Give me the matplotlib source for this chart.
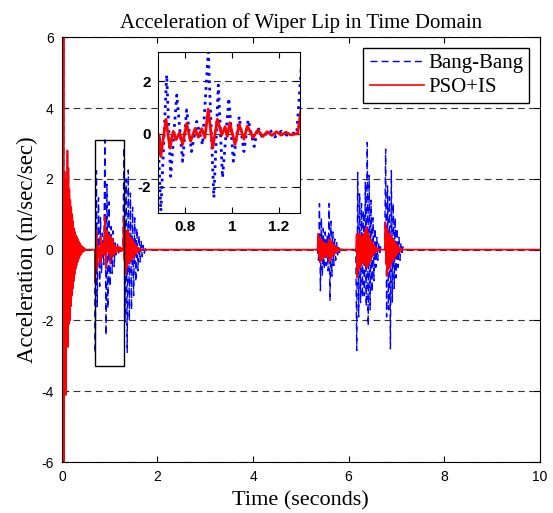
import numpy as np
import matplotlib.pyplot as plt
from matplotlib.patches import Rectangle

plt.rcParams['axes.unicode_minus'] = False

# start-up transient (same for both controllers), one value every 0.01 s
start_t0, start_dt = 0.025, 0.01
start_vals = [0, 6.6, -6.6, 2.2, -3.2, 2.0, -4.1, 1.5, -2.6, 2.8, -2.75, 2.3, -2.1, 1.7,
              -2.0, 1.4, -1.6, 1.2, -1.3, 1.0, -1.1, 0.8, -0.9, 0.6, -0.7, 0.5, -0.55,
              0.4, -0.45, 0.35, -0.35, 0.3, -0.28, 0.22, -0.22, 0.18, -0.16, 0.13,
              -0.12, 0.1, -0.08, 0.07, -0.06, 0.05, -0.04, 0.03, 0]

# Bang-Bang: first wipe burst
bb1_t = [0.685, 0.697, 0.722, 0.739, 0.765, 0.79, 0.807, 0.828, 0.85, 0.875, 0.899,
         0.923, 0.942, 0.96, 0.987, 1.006, 1.031, 1.051, 1.069, 1.095, 1.11, 1.13,
         1.162, 1.183, 1.211, 1.233, 1.262, 1.275]
bb1_v = [0, -2.93, 2.23, -1.61, 1.47, -1.04, 0.91, -0.67, 0.47, -0.42, 3.1,
         -2.42, 1.85, -1.66, 1.35, -1.04, 0.65, -0.67, 0.53, -0.48, 0.25, -0.15,
         0.15, -0.12, 0.10, -0.05, 0.03, 0]
# Bang-Bang: other bursts (start time, spacing, values)
bb_bursts = [
    (1.276, 0.0225, [0, 2.89, -2.05, 2.0, -2.9, 2.25, -2.0, 1.6, -1.7, 1.2, -1.3, 0.9,
                     -0.9, 0.6, -0.6, 0.4, -0.35, 0.25, -0.2, 0.12, -0.1, 0.05, 0]),
    (5.35, 0.02, [0, -0.3, 1.3, -1.16, 0.9, -0.75, 0.6, -0.55, 0.5, -0.45, 0.4, -0.6,
                  1.3, -1.45, 0.8, -0.75, 0.5, -0.45, 0.3, -0.3, 0.2, -0.15, 0.1,
                  -0.08, 0.05, 0]),
    (6.15, 0.02, [0, -2.85, 2.18, -1.9, 1.6, -1.5, 1.3, -1.35, 1.1, -1.3, 1.9, -1.6,
                  3.03, -2.15, 2.1, -1.7, 1.4, -1.2, 0.9, -0.88, 0.6, -0.5, 0.35,
                  -0.3, 0.2, -0.15, 0.08, 0]),
    (6.755, 0.02, [0, 2.84, -1.9, 1.8, -1.7, 1.5, -2.8, 2.23, -1.5, 1.3, -1.1, 0.9,
                   -0.8, 0.6, -0.5, 0.35, -0.3, 0.2, -0.15, 0.08, 0]),
]

# PSO+IS: first wipe burst
ps1_t = [0.685, 0.691, 0.697, 0.719, 0.736, 0.75, 0.762, 0.777, 0.79, 0.807, 0.824,
         0.843, 0.857, 0.871, 0.885, 0.899, 0.918, 0.938, 0.957, 0.971, 0.98, 0.991,
         1.013, 1.031, 1.051, 1.066, 1.09, 1.11, 1.132, 1.15, 1.17, 1.19, 1.21,
         1.23, 1.25, 1.275]
ps1_v = [0, -0.1, -0.86, 0.55, -0.54, 0.09, -0.22, 0.05, -0.4, 0.39, -0.28,
         0.2, -0.13, 0.2, -0.15, 0.93, -0.54, 0.55, -0.04, 0.27, -0.1, 0.42,
         -0.4, 0.36, -0.2, 0.3, -0.15, 0.14, -0.1, 0.08, -0.06, 0.08, -0.05,
         0.06, -0.04, 0]
ps_bursts = [
    (1.28, 0.014, [0, 0.9, -0.3, 0.6, -0.68, 0.5, -0.5, 0.55, -0.4, 0.45, -0.35, 0.35,
                   -0.3, 0.3, -0.25, 0.25, -0.2, 0.18, -0.15, 0.12, -0.1, 0.08, -0.06,
                   0.05, -0.04, 0.03, -0.02, 0]),
    (5.35, 0.014, [0, 0.45, -0.2, 0.35, -0.36, 0.3, -0.3, 0.25, -0.25, 0.2, -0.22, 0.18,
                   -0.2, 0.15, -0.15, 0.18, -0.2, 0.3, -0.35, 0.28, -0.25, 0.22, -0.2,
                   0.15, -0.15, 0.12, -0.1, 0.08, -0.07, 0.06, -0.05, 0.04, -0.03,
                   0.02, 0]),
    (6.155, 0.013, [0, 0.44, -0.78, 0.4, -0.6, 0.45, -0.5, 0.4, -0.45, 0.35, -0.4, 0.4,
                    -0.35, 0.45, -0.4, 0.55, -0.45, 0.63, -0.5, 0.5, -0.45, 0.4, -0.35,
                    0.3, -0.3, 0.25, -0.2, 0.18, -0.15, 0.12, -0.1, 0.08, -0.06, 0.05,
                    -0.04, 0.03, -0.02, 0.01, 0]),
    (6.758, 0.013, [0, 0.77, -0.4, 0.6, -0.73, 0.5, -0.55, 0.45, -0.5, 0.4, -0.4, 0.35,
                    -0.35, 0.3, -0.28, 0.25, -0.22, 0.2, -0.18, 0.15, -0.12, 0.1, -0.08,
                    0.06, -0.05, 0.04, -0.03, 0.02, 0]),
]
t_end = 10.0


def build(first_t, first_v, bursts):
    ts = [np.array([0.0]), start_t0 + start_dt * np.arange(len(start_vals)), np.array(first_t)]
    vs = [np.array([0.0]), np.array(start_vals), np.array(first_v)]
    for t0, dt, vals in bursts:
        ts.append(t0 + dt * np.arange(len(vals)))
        vs.append(np.array(vals))
    ts.append(np.array([t_end]))
    vs.append(np.array([0.0]))
    return np.concatenate(ts), np.concatenate(vs)


bb_t, bb_v = build(bb1_t, bb1_v, bb_bursts)
ps_t, ps_v = build(ps1_t, ps1_v, ps_bursts)

serif = ['Liberation Serif', 'DejaVu Serif']
sans = ['Liberation Sans', 'DejaVu Sans']

fig = plt.figure(figsize=(5.53, 5.13), dpi=100)
ax = fig.add_axes([0.112, 0.0994, 0.864, 0.828])
ax.plot(bb_t, bb_v, color='b', ls='--', dashes=(5, 3), lw=1, label='Bang-Bang')
ax.plot(ps_t, ps_v, color='r', lw=1.2, label='PSO+IS')
ax.set_xlim(0, 10)
ax.set_ylim(-6, 6)
ax.set_xticks(np.arange(0, 11, 2))
ax.set_yticks(np.arange(-6, 7, 2))
ax.yaxis.grid(True, color='0.2', ls=(0, (6, 4)), lw=0.8)
ax.set_axisbelow(True)
ax.tick_params(direction='in', top=True, right=True, labelsize=10, length=4, pad=6)
for lab in ax.get_xticklabels() + ax.get_yticklabels():
    lab.set_family(sans)
ax.set_title('Acceleration of Wiper Lip in Time Domain', family=serif, fontsize=15, pad=7)
ax.set_xlabel('Time (seconds)', family=serif, fontsize=16, labelpad=5)
ax.set_ylabel('Acceleration (m/sec/sec)', family=serif, fontsize=16.5, labelpad=2)
leg = ax.legend(loc='upper right', prop={'family': serif, 'size': 15}, fancybox=False,
                framealpha=1, edgecolor='k', borderaxespad=0.5, handlelength=2.6,
                handletextpad=0.2, labelspacing=0.2, borderpad=0.3)
leg.get_frame().set_linewidth(1)
ax.add_patch(Rectangle((0.685, -3.3), 0.605, 6.4, fill=False, ec='k', lw=1, zorder=3))

ins = fig.add_axes([0.2857, 0.5848, 0.2568, 0.3138])
ins.plot(bb_t, bb_v, color='b', ls=':', lw=2)
ins.plot(ps_t, ps_v, color='r', lw=2)
ins.set_xlim(0.685, 1.29)
ins.set_ylim(-3.0, 3.1)
ins.set_xticks([0.8, 1.0, 1.2])
ins.set_xticklabels(['0.8', '1', '1.2'])
ins.set_yticks([-2, 0, 2])
ins.yaxis.grid(True, color='0.2', ls=(0, (6, 4)), lw=0.8)
ins.set_axisbelow(True)
ins.tick_params(direction='in', top=True, right=True, labelsize=11, length=4, pad=5)
for lab in ins.get_xticklabels() + ins.get_yticklabels():
    lab.set_family(sans)
    lab.set_fontweight('bold')

fig.savefig('out.png', dpi=100)
